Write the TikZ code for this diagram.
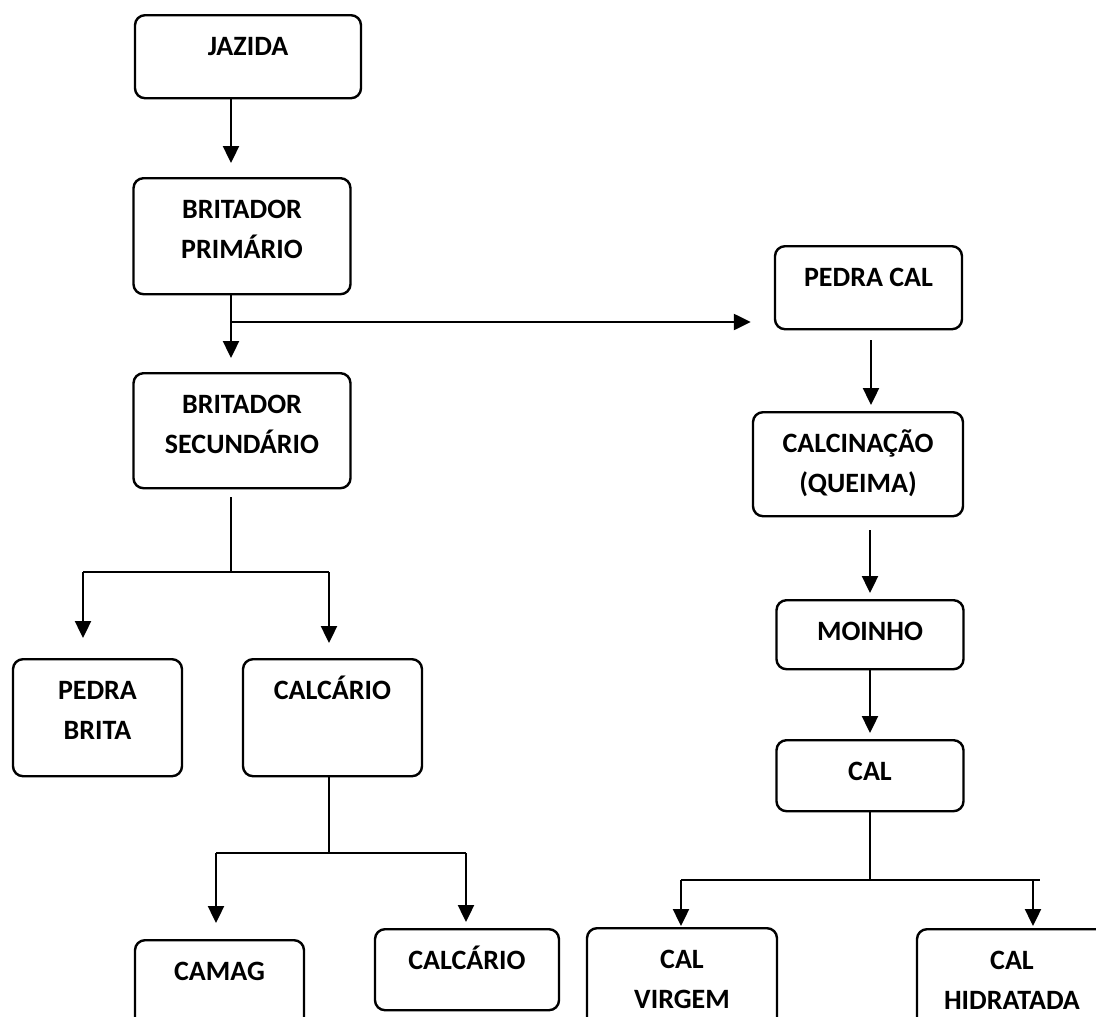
\documentclass[tikz,border=0pt]{standalone}
\usepackage{fontspec}
\setmainfont{Carlito}
\usetikzlibrary{arrows.meta, positioning}

\begin{document}
\begin{tikzpicture}[
    x=1pt, y=-1pt,
    box/.style={draw, line width=2.4pt, rounded corners=10pt, anchor=north,
                inner xsep=4pt, inner ysep=0pt, align=center, text height=40pt,
                font=\fontsize{28}{40}\selectfont\bfseries},
    twolines/.style={box, text height=80pt},
    arr/.style={-{Triangle[width=16pt,length=17pt]}, line width=2.4pt},
    lin/.style={line width=2.4pt}
  ]
  \useasboundingbox (0,0) rectangle (1096,1017);
  \clip (0,0) rectangle (1096,1017);

  % left column
  \node[box, minimum width=226pt, text depth=43pt] (jazida) at (248,14) {JAZIDA};
  \node[twolines, minimum width=217pt, text depth=36pt] (britI) at (242,177) {BRITADOR\\PRIMÁRIO};
  \node[twolines, minimum width=217pt, text depth=35pt] (britII) at (242,372) {BRITADOR\\SECUNDÁRIO};
  \node[twolines, minimum width=169pt, text depth=37pt] (pedrabrita) at (97.5,658) {PEDRA\\BRITA};
  \node[box, minimum width=179pt, text depth=77pt] (calcario) at (332.5,658) {CALCÁRIO};
  \node[box, minimum width=169pt, text depth=62pt] (camag) at (219.5,939) {CAMAG};
  \node[box, minimum width=184pt, text depth=41pt] (calcarioB) at (467,928) {CALCÁRIO};

  % right column
  \node[box, minimum width=187pt, text depth=43pt] (pedracal) at (868.5,245) {PEDRA CAL};
  \node[twolines, minimum width=210pt, text depth=24pt] (calcin) at (858,411) {CALCINAÇÃO\\(QUEIMA)};
  \node[box, minimum width=187pt, text depth=29pt] (moinho) at (870,599) {MOINHO};
  \node[box, minimum width=187pt, text depth=31pt] (cal) at (870,739) {CAL};
  \node[twolines, minimum width=190pt, text depth=22pt] (calvirgem) at (682,927) {CAL\\VIRGEM};
  \node[twolines, minimum width=190pt, text depth=22pt] (calhidr) at (1012,928) {CAL\\HIDRATADA};

  % junctions
  \coordinate (jPrim) at (231,322);
  \coordinate (jSec) at (231,572);
  \coordinate (jSecL) at (83,572);
  \coordinate (jSecR) at (329,572);
  \coordinate (jCal) at (329,853);
  \coordinate (jCalL) at (216,853);
  \coordinate (jCalR) at (466,853);
  \coordinate (jLime) at (870,880);
  \coordinate (jLimeL) at (681,880);
  \coordinate (jLimeR) at (1040,880);

  \draw[arr] ([xshift=-17pt]jazida.south) -- ([xshift=-11pt,yshift=14pt]britI.north);
  \draw[arr] ([xshift=-11pt]britI.south) -- ([xshift=-11pt,yshift=14pt]britII.north);
  \draw[arr, shorten >=23pt] (jPrim) -- (jPrim -| pedracal.west);

  \draw[lin] ([xshift=-11pt,yshift=-8pt]britII.south) -- (jSec);
  \draw[lin] (jSecL) -- (jSecR);
  \draw[arr, shorten >=20pt] (jSecL) -- (jSecL |- pedrabrita.north);
  \draw[arr, shorten >=15pt] (jSecR) -- (jSecR |- calcario.north);

  \draw[lin] (calcario.south -| jCal) -- (jCal);
  \draw[lin] (jCalL) -- (jCalR);
  \draw[arr, shorten >=16pt] (jCalL) -- (jCalL |- camag.north);
  \draw[arr, shorten >=6pt] (jCalR) -- (jCalR |- calcarioB.north);

  \draw[arr] ([xshift=2.5pt,yshift=-10pt]pedracal.south) -- ([xshift=13pt,yshift=6pt]calcin.north);
  \draw[arr] ([xshift=12pt,yshift=-13pt]calcin.south) -- ([yshift=6pt]moinho.north);
  \draw[arr] (moinho.south) -- ([yshift=6pt]cal.north);

  \draw[lin] (cal.south) -- (jLime);
  \draw[lin] (jLimeL) -- (jLimeR);
  \draw[arr, shorten >=1pt] (jLimeL) -- (jLimeL |- calvirgem.north);
  \draw[arr, shorten >=2pt] ([xshift=21pt]calhidr.north |- jLimeR) -- ([xshift=21pt]calhidr.north);
\end{tikzpicture}
\end{document}
